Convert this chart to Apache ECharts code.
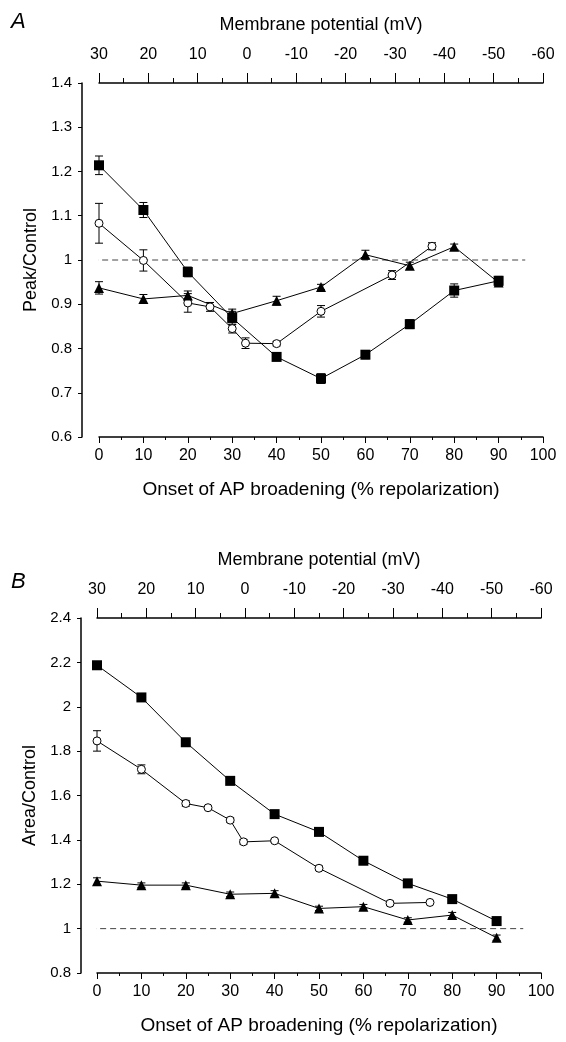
<!DOCTYPE html>
<html>
<head>
<meta charset="utf-8">
<script src="https://cdn.jsdelivr.net/npm/echarts@6/dist/echarts.min.js"></script>
<style>
html,body{margin:0;padding:0;background:#fff;}
#c{width:566px;height:1042px;}
</style>
</head>
<body>
<div id="c"></div>
<script>
// ---- Data ----
var xFull = [0, 10, 20, 30, 40, 50, 60, 70, 80, 90];
var xCircle = [0, 10, 20, 25, 30, 33, 40, 50, 66, 75];

// Panel A: Peak/Control
var peakSquare = [1.214, 1.113, 0.973, 0.869, 0.781, 0.732, 0.786, 0.855, 0.931, 0.953];
var peakSquareErr = [0.021, 0.017, 0.011, 0.015, 0.008, 0.011, 0.009, 0.010, 0.015, 0.010];
var peakCircle = [1.083, 0.999, 0.903, 0.894, 0.845, 0.812, 0.811, 0.884, 0.966, 1.031];
var peakCircleErr = [0.045, 0.024, 0.021, 0.010, 0.010, 0.012, 0.005, 0.013, 0.010, 0.008];
var peakTriangle = [0.937, 0.912, 0.920, 0.879, 0.908, 0.939, 1.012, 0.987, 1.030, 0.949];
var peakTriangleErr = [0.014, 0.010, 0.010, 0.010, 0.010, 0.006, 0.010, 0.008, 0.006, 0.006];

// Panel B: Area/Control
var areaSquare = [2.187, 2.042, 1.840, 1.666, 1.516, 1.436, 1.306, 1.204, 1.133, 1.034];
var areaSquareErr = [0.015, 0.010, 0.010, 0.010, 0.010, 0.010, 0.010, 0.012, 0.012, 0.012];
var areaCircle = [1.846, 1.718, 1.564, 1.545, 1.489, 1.391, 1.396, 1.272, 1.114, 1.118];
var areaCircleErr = [0.046, 0.020, 0.012, 0.008, 0.010, 0.010, 0.006, 0.010, 0.010, 0.006];
var areaTriangle = [1.214, 1.196, 1.196, 1.155, 1.159, 1.091, 1.099, 1.039, 1.061, 0.959];
var areaTriangleErr = [0.015, 0.010, 0.010, 0.010, 0.012, 0.010, 0.010, 0.010, 0.012, 0.012];

// Axis texts
var xTitle = 'Onset of AP broadening (% repolarization)';
var topTitle = 'Membrane potential (mV)';
var yTitleA = 'Peak/Control';
var yTitleB = 'Area/Control';
var refLine = [[-3.8, 1], [96, 1]];

// ---- Helpers ----
var FONT = '"Liberation Sans", Arial, Helvetica, sans-serif';
function pairs(xs, ys) { return xs.map(function (x, i) { return [x, ys[i]]; }); }
function triples(xs, ys, es) { return xs.map(function (x, i) { return [x, ys[i], es[i]]; }); }

function errSeries(xs, ys, es, gi) {
  return {
    type: 'custom',
    xAxisIndex: gi * 2, yAxisIndex: gi,
    data: triples(xs, ys, es),
    z: 3,
    silent: true,
    renderItem: function (params, api) {
      var x = api.value(0), y = api.value(1), e = api.value(2);
      var hi = api.coord([x, y + e]);
      var lo = api.coord([x, y - e]);
      var w = 4;
      var st = { stroke: '#000', lineWidth: 1 };
      return {
        type: 'group',
        children: [
          { type: 'line', shape: { x1: hi[0], y1: hi[1], x2: lo[0], y2: lo[1] }, style: st },
          { type: 'line', shape: { x1: hi[0] - w, y1: hi[1], x2: hi[0] + w, y2: hi[1] }, style: st },
          { type: 'line', shape: { x1: lo[0] - w, y1: lo[1], x2: lo[0] + w, y2: lo[1] }, style: st }
        ]
      };
    }
  };
}

function lineSeries(xs, ys, gi, kind) {
  var s = {
    type: 'line',
    xAxisIndex: gi * 2, yAxisIndex: gi,
    data: pairs(xs, ys),
    lineStyle: { color: '#000', width: 1 },
    z: 4,
    silent: true
  };
  if (kind === 'square') {
    s.symbol = 'rect'; s.symbolSize = 10;
    s.itemStyle = { color: '#000' };
  } else if (kind === 'circle') {
    s.symbol = 'circle'; s.symbolSize = 8;
    s.itemStyle = { color: '#fff', borderColor: '#000', borderWidth: 1 };
  } else {
    s.symbol = 'triangle'; s.symbolSize = 10;
    s.itemStyle = { color: '#000' };
  }
  return s;
}

function dashSeries(gi) {
  return {
    type: 'line',
    xAxisIndex: gi * 2, yAxisIndex: gi,
    data: refLine,
    clip: false,
    symbol: 'none',
    silent: true,
    z: 1,
    lineStyle: { color: '#444', width: 1, type: [6, 4] }
  };
}

function bottomAxis(gi) {
  return {
    type: 'value', gridIndex: gi, position: 'bottom',
    min: 0, max: 100, interval: 10,
    name: xTitle, nameLocation: 'middle', nameGap: 43,
    nameTextStyle: { fontFamily: FONT, fontSize: 19, color: '#000' },
    axisLine: { show: true, onZero: false, lineStyle: { color: '#000', width: 1.5 } },
    axisTick: { show: true, inside: false, length: 6, lineStyle: { color: '#000', width: 1 } },
    minorTick: { show: true, splitNumber: 2, length: 3, lineStyle: { color: '#000', width: 1 } },
    axisLabel: { margin: 11, fontFamily: FONT, fontSize: 16, color: '#000' },
    splitLine: { show: false }
  };
}

function topAxis(gi) {
  return {
    type: 'value', gridIndex: gi, position: 'top',
    min: -60, max: 30, interval: 10, inverse: true,
    name: topTitle, nameLocation: 'middle', nameGap: 49,
    nameTextStyle: { fontFamily: FONT, fontSize: 18, color: '#000' },
    axisLine: { show: true, onZero: false, lineStyle: { color: '#000', width: 1.5 } },
    axisTick: { show: true, inside: false, length: 10, lineStyle: { color: '#000', width: 1 } },
    minorTick: { show: true, splitNumber: 2, length: 5, lineStyle: { color: '#000', width: 1 } },
    axisLabel: { margin: 20, fontFamily: FONT, fontSize: 16, color: '#000' },
    splitLine: { show: false }
  };
}

function yAxis(gi, min, max, interval, name, offset) {
  return {
    type: 'value', gridIndex: gi, position: 'left',
    min: min, max: max, interval: interval, offset: offset,
    name: name, nameLocation: 'middle', nameGap: 42,
    nameTextStyle: { fontFamily: FONT, fontSize: 18, color: '#000' },
    axisLine: { show: true, onZero: false, lineStyle: { color: '#000', width: 1.5 } },
    axisTick: { show: true, inside: false, length: 4, lineStyle: { color: '#000', width: 1 } },
    axisLabel: { margin: 10, fontFamily: FONT, fontSize: 15, color: '#000' },
    splitLine: { show: false }
  };
}

var option = {
  animation: false,
  backgroundColor: '#fff',
  title: [
    { text: 'A', left: 6, top: 6, textStyle: { fontFamily: FONT, fontSize: 22, fontStyle: 'italic', fontWeight: 'normal', color: '#000' } },
    { text: 'B', left: 6, top: 566, textStyle: { fontFamily: FONT, fontSize: 22, fontStyle: 'italic', fontWeight: 'normal', color: '#000' } }
  ],
  grid: [
    { left: 99, top: 83, width: 444, height: 354 },
    { left: 97, top: 618, width: 444, height: 355 }
  ],
  xAxis: [bottomAxis(0), topAxis(0), bottomAxis(1), topAxis(1)],
  yAxis: [
    yAxis(0, 0.6, 1.4, 0.1, yTitleA, 17),
    yAxis(1, 0.8, 2.4, 0.2, yTitleB, 16)
  ],
  series: [
    dashSeries(0),
    errSeries(xFull, peakSquare, peakSquareErr, 0),
    errSeries(xCircle, peakCircle, peakCircleErr, 0),
    errSeries(xFull, peakTriangle, peakTriangleErr, 0),
    lineSeries(xFull, peakSquare, 0, 'square'),
    lineSeries(xCircle, peakCircle, 0, 'circle'),
    lineSeries(xFull, peakTriangle, 0, 'triangle'),
    dashSeries(1),
    errSeries(xFull, areaSquare, areaSquareErr, 1),
    errSeries(xCircle, areaCircle, areaCircleErr, 1),
    errSeries(xFull, areaTriangle, areaTriangleErr, 1),
    lineSeries(xFull, areaSquare, 1, 'square'),
    lineSeries(xCircle, areaCircle, 1, 'circle'),
    lineSeries(xFull, areaTriangle, 1, 'triangle')
  ]
};

var chart = echarts.init(document.getElementById('c'), null, { renderer: 'canvas' });
chart.setOption(option);
</script>
</body>
</html>
